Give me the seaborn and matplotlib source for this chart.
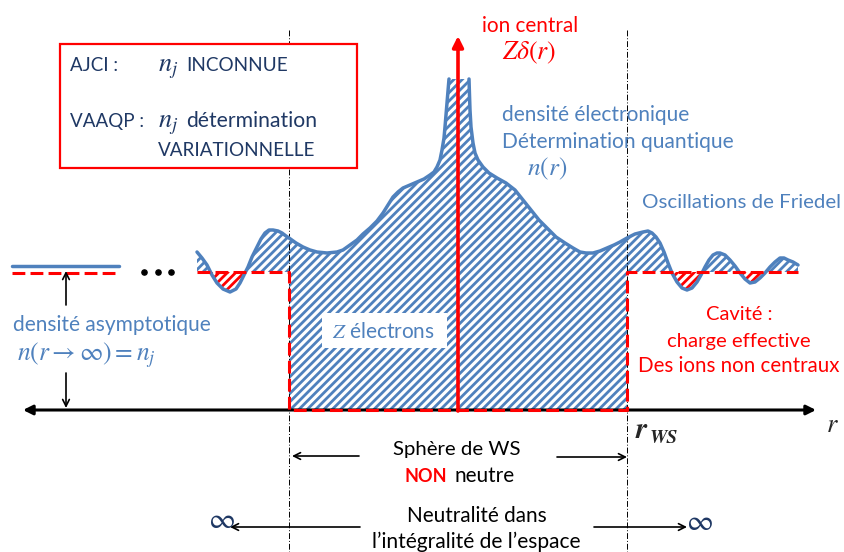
import numpy as np
import matplotlib
matplotlib.use("Agg")
import matplotlib.pyplot as plt
import seaborn as sns

# ---------------- data (pixel-space schematic) ----------------
left_x = [197, 202, 207, 212, 217, 223, 230, 236, 240, 244, 248, 252, 257, 261, 265, 269,
          273, 278, 282, 286, 289, 296, 303, 310, 317, 327, 337, 343, 350, 357, 363, 370,
          377, 383, 388, 393, 398, 403, 410, 417, 424, 430, 434, 437, 440, 442, 444, 445,
          446, 447, 448, 449]
left_y = [252, 258, 265, 275, 283, 289, 292, 289, 283, 275, 267, 257, 247, 239, 233, 230,
          230, 231, 233, 236, 238, 243, 247, 250, 252, 253, 252, 250, 245, 240, 234, 228,
          221, 213, 205, 197, 192, 188, 185, 182, 179, 175, 172, 167, 160, 150, 138, 127,
          115, 103, 91, 79]
right_x = [469, 469.5, 470, 471, 473, 475, 478, 483, 489, 497, 506, 515, 523, 531, 539, 548,
           556, 565, 573, 580, 586, 593, 600, 607, 614, 620, 627, 635, 643, 648, 652, 656,
           660, 664, 668, 672, 677, 682, 687, 692, 697, 701, 705, 709, 713, 717, 720, 725,
           730, 735, 740, 745, 750, 755, 760, 765, 770, 775, 780, 784, 788, 793, 798]
right_y = [79, 95, 110, 127, 143, 153, 160, 167, 173, 178, 183, 190, 200, 210, 220, 229,
           237, 243, 248, 252, 253, 253, 251, 248, 245, 242, 238, 234, 232, 231, 233, 237,
           243, 252, 263, 273, 282, 288, 290, 288, 282, 275, 267, 260, 255, 253, 253, 255,
           260, 266, 273, 279, 283, 282, 278, 273, 267, 262, 258, 258, 260, 262, 265]

dots_x = [144, 158, 171]
dots_y = [272, 272, 272]

box_lines = ["AJCI :", "VAAQP :"]
cavite_lines = ["Cavité :", "charge effective", "Des ions non centraux"]
dens_lines = ["densité électronique", "Détermination quantique"]

BLUE = "#4F81BD"
RED = "#FF0000"
NAVY = "#1F3864"

sns.set_theme(style="white")
plt.rcParams["font.family"] = ["Lato", "DejaVu Sans"]
plt.rcParams["mathtext.fontset"] = "stix"
plt.rcParams["hatch.linewidth"] = 2.0

fig = plt.figure(figsize=(8.44, 5.52), dpi=100)
ax = fig.add_axes([0, 0, 1, 1])
ax.set_xlim(0, 844)
ax.set_ylim(552, 0)
ax.axis("off")
renderer = fig.canvas.get_renderer()


def fit_text(x0, x1, y, s, ha="left", **kw):
    """Place text on baseline y and scale its size so it spans x0..x1 pixels."""
    xx = {"left": x0, "center": (x0 + x1) / 2, "right": x1}[ha]
    t = ax.text(xx, y, s, fontsize=14, ha=ha, va="baseline", **kw)
    w = t.get_window_extent(renderer=renderer).width
    t.set_fontsize(14 * (x1 - x0) / w)
    return t


Y_AX = 410
Y_RED = 272
X_L, X_R = 289, 627

# ---------------- hatched areas ----------------
x_all = np.array(left_x + right_x, dtype=float)
y_all = np.array(left_y + right_y, dtype=float)
inside = (x_all >= X_L) & (x_all <= X_R)
HATCH = "////"
ax.fill_between(x_all[inside], y_all[inside], Y_AX, facecolor="none",
                edgecolor=BLUE, hatch=HATCH, linewidth=0, zorder=1)
for mask in [(x_all <= X_L), (x_all >= X_R)]:
    xs, ys = x_all[mask], y_all[mask]
    ax.fill_between(xs, ys, Y_RED, where=ys <= Y_RED, interpolate=True,
                    facecolor="none", edgecolor=BLUE, hatch=HATCH, linewidth=0, zorder=1)
    ax.fill_between(xs, ys, Y_RED, where=ys >= Y_RED, interpolate=True,
                    facecolor="none", edgecolor=RED, hatch=HATCH, linewidth=0, zorder=1)

# ---------------- dash-dot verticals ----------------
for xv in (X_L, X_R):
    ax.plot([xv, xv], [30, 552], color="black", lw=0.7, ls=(0, (6, 2, 1, 2)), zorder=1.5)

# ---------------- density curve ----------------
sns.lineplot(x=left_x, y=left_y, sort=False, estimator=None, color=BLUE, lw=2.5, ax=ax, zorder=3)
sns.lineplot(x=right_x, y=right_y, sort=False, estimator=None, color=BLUE, lw=2.5, ax=ax, zorder=3)

# ---------------- axis r ----------------
ax.annotate("", xy=(23, Y_AX), xytext=(816, Y_AX),
            arrowprops=dict(arrowstyle="<|-|>", lw=2.2, color="black",
                            mutation_scale=14, shrinkA=0, shrinkB=0), zorder=3.5)

# ---------------- red dashed cavity ----------------
dash = (0, (4.2, 1.7))
ax.plot([197, X_L, X_L, X_R, X_R, 798], [Y_RED, Y_RED, Y_AX, Y_AX, Y_RED, Y_RED],
        color=RED, lw=2.2, ls=dash, zorder=4, solid_joinstyle="miter")

# asymptotic levels on the far left
ax.plot([12, 119], [266, 266], color=BLUE, lw=2.5, zorder=3)
ax.plot([12, 119], [273, 273], color=RED, lw=2.2, ls=dash, zorder=3)
ax.scatter(dots_x, dots_y, s=14, color="black", zorder=3)

# ---------------- ion central arrow ----------------
ax.annotate("", xy=(458, 36), xytext=(458, Y_AX + 1),
            arrowprops=dict(arrowstyle="-|>", lw=2.6, color=RED,
                            mutation_scale=16, shrinkA=0, shrinkB=0), zorder=5)
fit_text(482, 578, 32, "ion central", color=RED)
fit_text(502, 557, 59, r"$Z\delta(r)$", color=RED)

# ---------------- box ----------------
ax.add_patch(plt.Rectangle((60, 44), 297, 124, facecolor="white", edgecolor=RED,
                           lw=1.6, zorder=6))
fit_text(70, 118, 71, box_lines[0], color=NAVY, zorder=7)
fit_text(158, 179, 71, r"$n_j$", color=NAVY, zorder=7)
fit_text(186, 287, 71, "INCONNUE", color=NAVY, zorder=7)
fit_text(70, 144, 127, box_lines[1], color=NAVY, zorder=7)
fit_text(158, 179, 127, r"$n_j$", color=NAVY, zorder=7)
fit_text(186, 317, 127, "détermination", color=NAVY, zorder=7)
fit_text(158, 315, 156, "VARIATIONNELLE", color=NAVY, zorder=7)

# ---------------- blue annotations ----------------
fit_text(502, 690, 121, dens_lines[0], color=BLUE)
fit_text(502, 735, 148, dens_lines[1], color=BLUE)
fit_text(527, 568, 175, r"$n(r)$", color=BLUE)
fit_text(642, 841, 208, "Oscillations de Friedel", color=BLUE)
fit_text(13, 211, 331, "densité asymptotique", color=BLUE)
fit_text(17, 157, 360, r"$n(r\rightarrow\infty)=n_j$", color=BLUE)
ax.add_patch(plt.Rectangle((322, 313), 125, 35, facecolor="white", edgecolor="none", zorder=4))
fit_text(332, 435, 338, r"$Z$ électrons", color=BLUE, zorder=4.5)

# asymptotic density arrows
ax.annotate("", xy=(66, 271), xytext=(66, 305),
            arrowprops=dict(arrowstyle="->", lw=1.2, color="black", mutation_scale=12,
                            shrinkA=0, shrinkB=0))
ax.annotate("", xy=(66, 408), xytext=(66, 373),
            arrowprops=dict(arrowstyle="->", lw=1.2, color="black", mutation_scale=12,
                            shrinkA=0, shrinkB=0))

# ---------------- cavity text ----------------
fit_text(706, 773, 320, cavite_lines[0], color=RED)
fit_text(667, 811, 347, cavite_lines[1], color=RED)
fit_text(638, 840, 372, cavite_lines[2], color=RED)

# r labels
ax.text(636, 438, "r", fontfamily="STIXGeneral", fontstyle="italic", fontweight="bold",
        fontsize=21, va="baseline")
ax.text(650, 443, "WS", fontfamily="STIXGeneral", fontstyle="italic", fontweight="bold",
        fontsize=14, va="baseline")
ax.text(832, 432, "r", fontfamily="STIXGeneral", fontstyle="italic", fontsize=19,
        ha="center", va="baseline")

# ---------------- bottom texts ----------------
fit_text(393, 521, 455, "Sphère de WS", color="black")
fit_text(405, 448, 482, "NON", color=RED, fontweight="bold")
fit_text(455, 515, 482, "neutre", color="black")
ax.annotate("", xy=(292, 456), xytext=(359, 456),
            arrowprops=dict(arrowstyle="->", lw=1.2, color="black", mutation_scale=12,
                            shrinkA=0, shrinkB=0))
ax.annotate("", xy=(627, 457), xytext=(557, 457),
            arrowprops=dict(arrowstyle="->", lw=1.2, color="black", mutation_scale=12,
                            shrinkA=0, shrinkB=0))

fit_text(407, 547, 522, "Neutralité dans", color="black")
fit_text(372, 582, 548, "l’intégralité de l’espace", color="black")
ax.annotate("", xy=(230, 527), xytext=(360, 527),
            arrowprops=dict(arrowstyle="->", lw=1.2, color="black", mutation_scale=12,
                            shrinkA=0, shrinkB=0))
ax.annotate("", xy=(687, 527), xytext=(594, 527),
            arrowprops=dict(arrowstyle="->", lw=1.2, color="black", mutation_scale=12,
                            shrinkA=0, shrinkB=0))
ax.text(221, 520, r"$\infty$", color=NAVY, fontsize=21, ha="center", va="center")
ax.text(699, 522, r"$\infty$", color=NAVY, fontsize=21, ha="center", va="center")

fig.savefig("out.png", dpi=100)
